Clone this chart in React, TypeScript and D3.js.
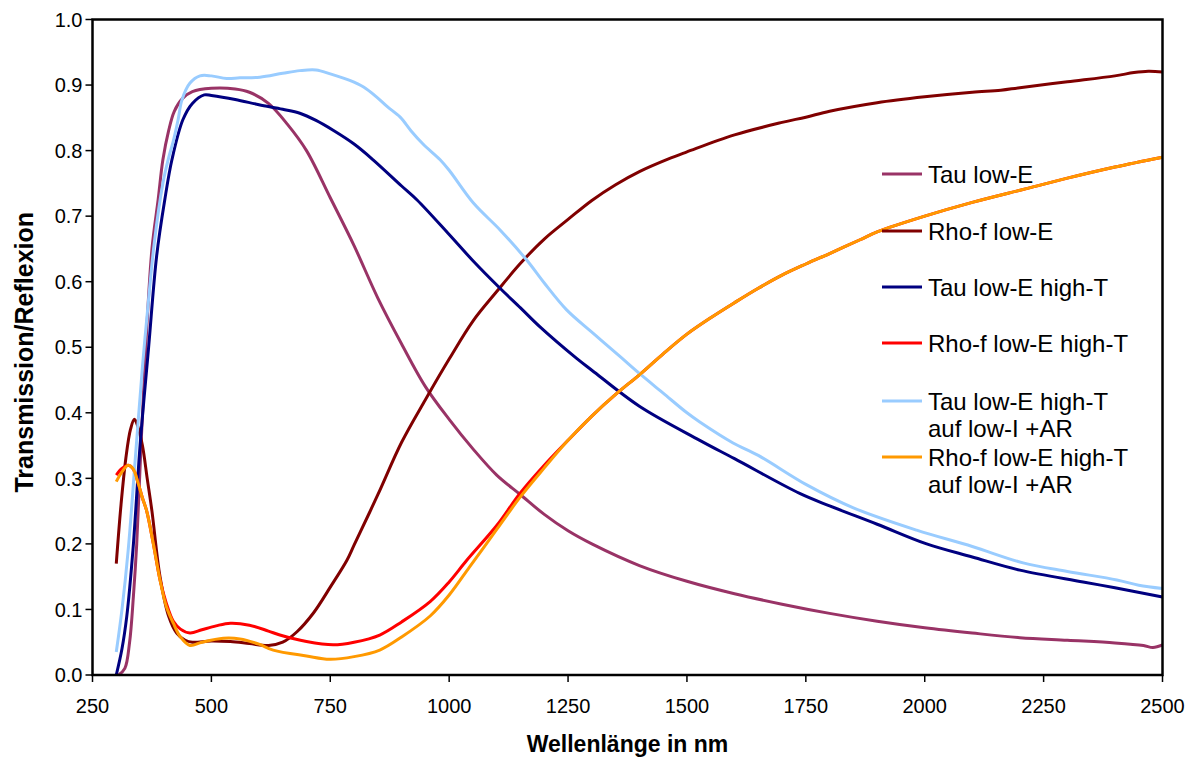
import React, { useEffect, useRef } from "react";
import * as d3 from "d3";

// Spectral transmission / reflection of low-E coatings (wavelength in nm).
const tauLowE: [number, number][] = [
  [305, 0.0], [318, 0.01], [328, 0.05], [336, 0.12], [343, 0.2], [352, 0.35], [362, 0.5],
  [375, 0.65], [388, 0.725], [398, 0.786], [410, 0.83], [422, 0.86], [440, 0.88], [460, 0.89],
  [500, 0.895], [550, 0.894], [580, 0.889], [620, 0.872], [660, 0.84], [700, 0.8], [750, 0.728],
  [800, 0.655], [850, 0.575], [900, 0.505], [950, 0.44], [1000, 0.39], [1050, 0.345],
  [1100, 0.305], [1150, 0.275], [1200, 0.245], [1250, 0.22], [1300, 0.2], [1400, 0.167],
  [1500, 0.143], [1600, 0.124], [1700, 0.108], [1800, 0.094], [1900, 0.082], [2000, 0.072],
  [2100, 0.064], [2200, 0.057], [2300, 0.053], [2400, 0.049], [2460, 0.045], [2480, 0.042],
  [2500, 0.046],
];

const rhoLowE: [number, number][] = [
  [300, 0.17], [310, 0.26], [320, 0.33], [330, 0.375], [338, 0.39], [345, 0.38], [355, 0.35],
  [365, 0.3], [375, 0.25], [392, 0.15], [410, 0.09], [427, 0.064], [445, 0.053], [460, 0.05],
  [500, 0.052], [540, 0.051], [580, 0.048], [620, 0.045], [650, 0.05], [680, 0.066],
  [715, 0.095], [750, 0.134], [785, 0.175], [800, 0.198], [850, 0.275], [900, 0.355],
  [950, 0.42], [1000, 0.482], [1050, 0.54], [1100, 0.585], [1150, 0.628], [1200, 0.665],
  [1250, 0.695], [1300, 0.724], [1350, 0.748], [1400, 0.768], [1460, 0.787], [1500, 0.798],
  [1600, 0.824], [1700, 0.843], [1750, 0.851], [1800, 0.86], [1900, 0.873], [2000, 0.882],
  [2100, 0.889], [2160, 0.892], [2200, 0.896], [2300, 0.905], [2400, 0.914], [2440, 0.919],
  [2470, 0.921], [2500, 0.92],
];

const tauHighT: [number, number][] = [
  [300, 0.0], [312, 0.04], [322, 0.089], [335, 0.19], [350, 0.35], [368, 0.5], [385, 0.64],
  [402, 0.725], [417, 0.786], [440, 0.847], [460, 0.872], [485, 0.885], [500, 0.884],
  [550, 0.878], [600, 0.87], [650, 0.863], [686, 0.857], [720, 0.846], [756, 0.831],
  [800, 0.81], [840, 0.786], [900, 0.746], [932, 0.725], [1000, 0.672], [1050, 0.632],
  [1107, 0.59], [1150, 0.56], [1191, 0.531], [1268, 0.483], [1300, 0.465], [1400, 0.41],
  [1527, 0.358], [1600, 0.33], [1737, 0.277], [1800, 0.258], [1900, 0.23], [2004, 0.2],
  [2100, 0.18], [2200, 0.16], [2333, 0.142], [2400, 0.133], [2500, 0.119],
];

const rhoHighT: [number, number][] = [
  [300, 0.305], [312, 0.315], [325, 0.32], [335, 0.315], [345, 0.295], [355, 0.27],
  [364, 0.25], [378, 0.2], [392, 0.145], [405, 0.11], [420, 0.082], [435, 0.07], [455, 0.064],
  [480, 0.069], [510, 0.075], [540, 0.079], [580, 0.076], [620, 0.067], [644, 0.061],
  [700, 0.051], [756, 0.046], [800, 0.05], [854, 0.061], [900, 0.081], [960, 0.112],
  [1000, 0.142], [1037, 0.175], [1100, 0.228], [1150, 0.278], [1200, 0.32], [1250, 0.358],
  [1300, 0.395], [1350, 0.428], [1400, 0.458], [1450, 0.49], [1500, 0.52], [1550, 0.545],
  [1600, 0.568], [1650, 0.59], [1700, 0.61], [1750, 0.627], [1800, 0.643], [1864, 0.664],
  [1900, 0.676], [2000, 0.7], [2100, 0.721], [2214, 0.742], [2300, 0.758], [2400, 0.775],
  [2500, 0.79],
];

const tauHighTAR: [number, number][] = [
  [300, 0.035], [312, 0.1], [325, 0.19], [340, 0.33], [355, 0.47], [365, 0.55], [380, 0.66],
  [398, 0.75], [409, 0.786], [420, 0.815], [430, 0.847], [438, 0.877], [455, 0.903],
  [476, 0.914], [500, 0.914], [532, 0.91], [560, 0.911], [602, 0.912], [650, 0.918],
  [686, 0.922], [720, 0.923], [750, 0.917], [791, 0.907], [820, 0.897], [847, 0.882],
  [870, 0.867], [897, 0.851], [920, 0.83], [945, 0.81], [981, 0.786], [1000, 0.77],
  [1051, 0.72], [1107, 0.679], [1163, 0.633], [1200, 0.598], [1247, 0.557], [1300, 0.523],
  [1359, 0.486], [1400, 0.46], [1450, 0.43], [1500, 0.4], [1527, 0.386], [1597, 0.354],
  [1650, 0.335], [1752, 0.29], [1850, 0.255], [1983, 0.221], [2100, 0.196], [2207, 0.171],
  [2300, 0.158], [2404, 0.145], [2450, 0.137], [2500, 0.132],
];

const rhoHighTAR: [number, number][] = [
  [300, 0.295], [312, 0.31], [325, 0.32], [335, 0.315], [345, 0.295], [355, 0.27],
  [364, 0.25], [378, 0.2], [392, 0.145], [405, 0.105], [420, 0.079], [435, 0.058],
  [455, 0.045], [480, 0.05], [525, 0.056], [560, 0.055], [600, 0.047], [630, 0.038],
  [700, 0.029], [749, 0.024], [800, 0.028], [854, 0.038], [900, 0.058], [960, 0.09],
  [1000, 0.122], [1043, 0.165], [1100, 0.222], [1150, 0.272], [1200, 0.316], [1250, 0.358],
  [1300, 0.395], [1350, 0.428], [1400, 0.458], [1450, 0.49], [1500, 0.52], [1550, 0.545],
  [1600, 0.568], [1650, 0.59], [1700, 0.61], [1750, 0.627], [1800, 0.643], [1864, 0.664],
  [1900, 0.676], [2000, 0.7], [2100, 0.721], [2214, 0.742], [2300, 0.758], [2400, 0.775],
  [2500, 0.79],
];

const seriesNames: string[][] = [
  ["Tau low-E"],
  ["Rho-f low-E"],
  ["Tau low-E high-T"],
  ["Rho-f low-E high-T"],
  ["Tau low-E high-T", "auf low-I +AR"],
  ["Rho-f low-E high-T", "auf low-I +AR"],
];
const seriesColors = ["#993366", "#800000", "#000080", "#FF0000", "#99CCFF", "#FF9900"];
const seriesData = [tauLowE, rhoLowE, tauHighT, rhoHighT, tauHighTAR, rhoHighTAR];

const xTicks = [250, 500, 750, 1000, 1250, 1500, 1750, 2000, 2250, 2500];
const yTicks = [0, 0.1, 0.2, 0.3, 0.4, 0.5, 0.6, 0.7, 0.8, 0.9, 1.0];

const xTitle = "Wellenlänge in nm";
const yTitle = "Transmission/Reflexion";

const W = 1197;
const H = 758;
const FONT = "'Liberation Sans', Arial, Helvetica, sans-serif";

export default function App() {
  const ref = useRef<SVGSVGElement | null>(null);

  useEffect(() => {
    const svg = d3.select(ref.current);
    svg.selectAll("*").remove();

    const left = 92.5, right = 1162.5, top = 19.5, bottom = 675;
    const x = d3.scaleLinear().domain([250, 2500]).range([left, right]);
    const y = d3.scaleLinear().domain([0, 1]).range([bottom, top]);

    svg.append("rect").attr("width", W).attr("height", H).attr("fill", "#fff");

    // Data lines, smoothed through the sampled points
    const line = d3
      .line<[number, number]>()
      .x((d) => x(d[0]))
      .y((d) => y(d[1]))
      .curve(d3.curveCatmullRom.alpha(0.5));

    seriesData.forEach((data, i) => {
      svg
        .append("path")
        .attr("d", line(data))
        .attr("fill", "none")
        .attr("stroke", seriesColors[i])
        .attr("stroke-width", 3)
        .attr("stroke-linejoin", "round");
    });

    // Plot frame
    svg
      .append("rect")
      .attr("x", left)
      .attr("y", top)
      .attr("width", right - left)
      .attr("height", bottom - top)
      .attr("fill", "none")
      .attr("stroke", "#000")
      .attr("stroke-width", 2.5);

    // Y axis
    const yAxis = svg.append("g").attr("font-family", FONT).attr("font-size", 20);
    yTicks.forEach((t) => {
      yAxis
        .append("line")
        .attr("x1", left - 7)
        .attr("x2", left)
        .attr("y1", y(t))
        .attr("y2", y(t))
        .attr("stroke", "#000")
        .attr("stroke-width", 1.5);
      yAxis
        .append("text")
        .attr("x", left - 10)
        .attr("y", y(t))
        .attr("dy", "0.36em")
        .attr("text-anchor", "end")
        .text(d3.format(".1f")(t));
    });

    // X axis
    const xAxis = svg.append("g").attr("font-family", FONT).attr("font-size", 20);
    xTicks.forEach((t) => {
      xAxis
        .append("line")
        .attr("x1", x(t))
        .attr("x2", x(t))
        .attr("y1", bottom)
        .attr("y2", bottom + 7)
        .attr("stroke", "#000")
        .attr("stroke-width", 1.5);
      xAxis
        .append("text")
        .attr("x", x(t))
        .attr("y", 713)
        .attr("text-anchor", "middle")
        .text(String(t));
    });

    // Axis titles
    svg
      .append("text")
      .attr("x", (left + right) / 2)
      .attr("y", 752)
      .attr("text-anchor", "middle")
      .attr("font-family", FONT)
      .attr("font-weight", "bold")
      .attr("font-size", 23)
      .text(xTitle);

    svg
      .append("text")
      .attr("transform", `translate(33, ${(top + bottom) / 2 + 5}) rotate(-90)`)
      .attr("text-anchor", "middle")
      .attr("font-family", FONT)
      .attr("font-weight", "bold")
      .attr("font-size", 25)
      .text(yTitle);

    // Legend
    const legendY = [174, 231, 287, 343, 401, 457];
    const lg = svg.append("g").attr("font-family", FONT).attr("font-size", 24);
    seriesNames.forEach((lines, i) => {
      const ly = legendY[i];
      lg.append("line")
        .attr("x1", 882)
        .attr("x2", 922)
        .attr("y1", ly)
        .attr("y2", ly)
        .attr("stroke", seriesColors[i])
        .attr("stroke-width", 3);
      lines.forEach((s, k) => {
        lg.append("text")
          .attr("x", 928)
          .attr("y", ly + 9 + k * 27)
          .text(s);
      });
    });
  }, []);

  return (
    <svg
      ref={ref}
      width={W}
      height={H}
      style={{ position: "absolute", left: 0, top: 0, display: "block" }}
    />
  );
}
